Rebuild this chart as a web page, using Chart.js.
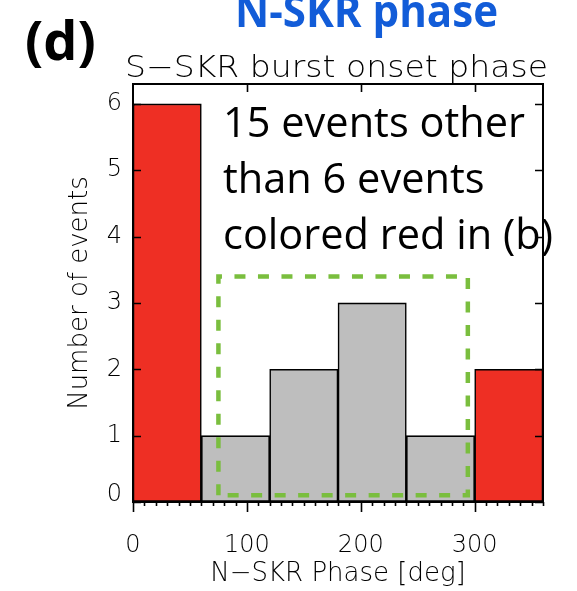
<!DOCTYPE html>
<html>
<head>
<meta charset="utf-8">
<script src="https://cdn.jsdelivr.net/npm/chart.js@4"></script>
<style>
  html, body { margin: 0; padding: 0; background: #fff; }
  #wrap { width: 577px; height: 591px; position: relative; }
</style>
</head>
<body>
<div id="wrap"><canvas id="phaseChart" width="577" height="591"></canvas></div>
<script>
// histogram of N-SKR phase, 60 deg bins
const binStarts = [0, 60, 120, 180, 240, 300];
const binWidth = 60;
const counts = [6, 1, 2, 3, 1, 2];
const redBins = [true, false, false, false, false, true];

// tick labels
const xTicks = [0, 100, 200, 300];
const yTicks = [0, 1, 2, 3, 4, 5, 6];

// green dashed box (corners, closed)
const boxX = [75, 75, 294, 294, 75];
const boxY = [0.1, 3.4, 3.4, 0.1, 0.1];

const noteLines = ['15 events other', 'than 6 events', 'colored red in (b)'];

const RED = 'rgb(238, 47, 36)';
const GRAY = 'rgb(190, 190, 190)';
const GREEN = 'rgb(122, 190, 62)';
const BLUE = 'rgb(18, 92, 216)';

const hershey = 'DejaVu Sans';

// draw text at a given size, squeezed/stretched to a given width
function fitText(ctx, text, font, x, y, width) {
    ctx.font = font;
    const w = ctx.measureText(text).width;
    ctx.save();
    ctx.translate(x, y);
    ctx.scale(width / w, 1);
    ctx.fillText(text, 0, 0);
    ctx.restore();
}

const decorPlugin = {
    id: 'decor',
    afterDraw(chart) {
        const ctx = chart.ctx;
        const a = chart.chartArea;
        const xs = chart.scales.x;
        const ys = chart.scales.y;
        ctx.save();
        ctx.strokeStyle = '#000';
        ctx.lineWidth = 2;
        ctx.strokeRect(a.left, a.top, a.right - a.left, a.bottom - a.top);

        ctx.lineWidth = 1.6;
        ctx.beginPath();
        // y ticks, inward on both sides
        yTicks.forEach(v => {
            const y = Math.round(ys.getPixelForValue(v)) + 0.5;
            ctx.moveTo(a.left, y); ctx.lineTo(a.left + 8, y);
            ctx.moveTo(a.right, y); ctx.lineTo(a.right - 8, y);
        });
        // top major ticks, inward
        xTicks.forEach(v => {
            if (v === 0) return;
            const x = Math.round(xs.getPixelForValue(v)) + 0.5;
            ctx.moveTo(x, a.top); ctx.lineTo(x, a.top + 8);
        });
        // bottom minor ticks every 10 deg, outward
        for (let v = 0; v <= 360; v += 10) {
            const x = Math.round(xs.getPixelForValue(v)) + 0.5;
            const len = xTicks.includes(v) ? 10 : 4;
            ctx.moveTo(x, a.bottom); ctx.lineTo(x, a.bottom + len);
        }
        ctx.stroke();

        ctx.fillStyle = '#000';
        ctx.textBaseline = 'alphabetic';
        ctx.textAlign = 'left';

        // y = 0 label sits a little higher than its tick
        ctx.textAlign = 'right';
        ctx.font = '200 24px "' + hershey + '"';
        ctx.fillText(String(yTicks[0]), a.left - 11, ys.getPixelForValue(yTicks[0]) - 1);
        ctx.textAlign = 'left';

        // titles
        fitText(ctx, 'S\u2212SKR burst onset phase', '200 30px "' + hershey + '"', 125, 77, 423);
        ctx.font = 'bold 54px "Open Sans"';
        ctx.fillText('(d)', 25, 60);

        ctx.fillStyle = BLUE;
        fitText(ctx, 'N-SKR phase', 'bold 44px "Open Sans"', 235, 27, 263);

        // annotation
        ctx.fillStyle = '#000';
        noteLines.forEach((t, i) => {
            ctx.font = '42px "Open Sans"';
            const w = ctx.measureText(t).width;
            const full = ctx.measureText(noteLines[0]).width;
            fitText(ctx, t, '42px "Open Sans"', 223, 137 + i * 56, w * 302 / full);
        });
        ctx.restore();
    }
};

const config = {
    type: 'bar',
    data: {
        datasets: [
            {
                type: 'line',
                data: boxX.map((x, i) => ({ x: x, y: boxY[i] })),
                borderColor: GREEN,
                borderWidth: 4.5,
                borderDash: [11, 12.5],
                pointRadius: 0,
                fill: false,
                tension: 0
            },
            {
                type: 'bar',
                data: binStarts.map((b, i) => ({ x: b + binWidth / 2, y: counts[i] })),
                backgroundColor: redBins.map(r => r ? RED : GRAY),
                borderColor: '#000',
                borderWidth: 1.6,
                borderSkipped: false,
                barPercentage: 1,
                categoryPercentage: 1,
                grouped: false
            }
        ]
    },
    options: {
        responsive: false,
        animation: false,
        layout: { padding: { top: 84, right: 34, bottom: 0, left: 0 } },
        plugins: { legend: { display: false }, tooltip: { enabled: false } },
        scales: {
            x: {
                type: 'linear',
                min: 0,
                max: 360,
                offset: false,
                afterBuildTicks: sc => { sc.ticks = xTicks.map(v => ({ value: v })); },
                afterFit: sc => { sc.height = 89; },
                grid: { display: true, drawOnChartArea: false, drawTicks: false },
                border: { display: false },
                ticks: {
                    autoSkip: false, maxRotation: 0, padding: 29, color: '#000',
                    font: { family: hershey, size: 24, weight: '200' }
                },
                title: {
                    display: true, text: 'N\u2212SKR Phase [deg]', color: '#000',
                    font: { family: hershey, size: 26, weight: '200' },
                    padding: { top: 0, bottom: 1 }
                }
            },
            y: {
                min: 0,
                max: 6.3,
                afterBuildTicks: sc => { sc.ticks = yTicks.map(v => ({ value: v })); },
                afterFit: sc => { sc.width = 133; },
                grid: { display: true, drawOnChartArea: false, drawTicks: false },
                border: { display: false },
                ticks: {
                    padding: 11, color: '#000',
                    font: { family: hershey, size: 24, weight: '200' },
                    callback: v => (v === yTicks[0] ? '' : String(v))
                },
                title: {
                    display: true, text: 'Number of events', color: '#000',
                    font: { family: hershey, size: 26, weight: '200' },
                    padding: { top: 65, bottom: 0 }
                }
            }
        }
    },
    plugins: [decorPlugin]
};

const canvas = document.getElementById('phaseChart');
window.phaseChart = new Chart(canvas, config);
</script>
</body>
</html>
